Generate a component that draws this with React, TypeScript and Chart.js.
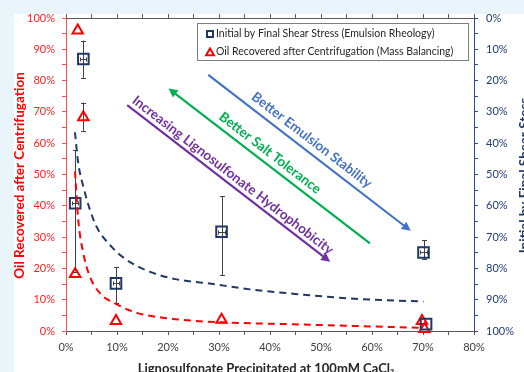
import { useEffect, useRef } from 'react';
import { Chart, registerables } from 'chart.js';

Chart.register(...registerables);

const W = 524;
const H = 372;
const FONT = 'Lato, "Open Sans", sans-serif';

// Initial by final shear stress (right axis, %, reversed)
const stressX = [3.4, 1.8, 9.8, 30.5, 70.1, 70.6];
const stressY = [13.1, 59.2, 84.8, 68.3, 74.9, 97.8];
const stressLow = [7.2, 42.3, 79.5, 56.9, 70.9, 97.8];
const stressHigh = [19.1, 81.0, 91.2, 82.1, 77.1, 97.8];
const stressXErr = [0.6, 0.6, 0.6, 0.6, 0.6, 0];

// Oil recovered after centrifugation (left axis, %)
const oilX = [2.3, 3.4, 1.8, 9.8, 30.5, 69.8, 70.3];
const oilY = [96.0, 68.3, 18.2, 3.2, 3.6, 3.2, 0.6];
const oilLow = [96.0, 64.0, 18.2, 3.2, 3.6, 3.2, 0.6];
const oilHigh = [96.0, 73.0, 18.2, 3.2, 3.6, 3.2, 0.6];

// Trend lines
const stressFitX = [1.76, 2.4, 3.4, 4.7, 6.0, 8.6, 11.9, 16.5, 21.7, 27.6, 36.1, 45.9, 55.7, 70.1];
const stressFitY = [36.5, 46.4, 53.9, 61.3, 66.7, 72.5, 77.3, 81.1, 83.5, 84.7, 86.7, 88.3, 89.6, 90.6];
const oilFitX = [1.76, 2.4, 3.4, 4.7, 6.7, 9.6, 13.9, 19.7, 27.6, 45.9, 70.0];
const oilFitY = [51.0, 35.5, 24.8, 17.3, 12.0, 8.8, 5.8, 4.1, 3.0, 2.1, 1.0];

// Trend arrows (x in %, y on the left axis in %)
const arrowText = ['Better Emulsion Stability', 'Better Salt Tolerance', 'Increasing Lignosulfonate Hydrophobicity'];
const arrowFromX = [27.9, 59.6, 12.0];
const arrowFromY = [81.8, 28.0, 72.2];
const arrowToX = [67.6, 20.1, 51.8];
const arrowToY = [32.0, 77.5, 22.1];
const arrowLabelX = [48.2, 40.0, 32.7];
const arrowLabelY = [61.0, 56.9, 49.8];
const arrowColors = ['#4472c4', '#00b050', '#7030a0'];

const legendLabels = [
  'Initial by Final Shear Stress (Emulsion Rheology)',
  'Oil Recovered after Centrifugation (Mass Balancing)',
];
const xTitle = 'Lignosulfonate Precipitated at 100mM CaCl₂';
const yTitle = 'Oil Recovered after Centrifugation';
const y1Title = 'Initial by Final Shear Stess';

const NAVY = '#1f3864';
const RED = '#ff0000';

const pct = (v: number | string) => (Number(v) % 10 === 0 ? `${v}%` : '');

const crisp = (v: number) => Math.round(v) + 0.5;

function drawTriangle(ctx: CanvasRenderingContext2D, x: number, y: number, r: number) {
  ctx.beginPath();
  ctx.moveTo(x, y - r);
  ctx.lineTo(x + r * 0.866, y + r * 0.5);
  ctx.lineTo(x - r * 0.866, y + r * 0.5);
  ctx.closePath();
  ctx.stroke();
}

const decorations = {
  id: 'decorations',
  beforeDraw(chart: any) {
    const { ctx } = chart;
    ctx.save();
    ctx.fillStyle = '#e9f5fb';
    ctx.fillRect(0, 0, W, H);
    ctx.fillStyle = '#ffffff';
    ctx.fillRect(14, 14, W - 14, H - 14);
    ctx.restore();
  },
  beforeDatasetsDraw(chart: any) {
    const { ctx, scales } = chart;
    const sx = scales.x;
    const vbar = (px: number, a: number, b: number) => {
      const x = crisp(px);
      ctx.beginPath();
      ctx.moveTo(x, a);
      ctx.lineTo(x, b);
      ctx.moveTo(x - 2.5, crisp(a));
      ctx.lineTo(x + 2.5, crisp(a));
      ctx.moveTo(x - 2.5, crisp(b));
      ctx.lineTo(x + 2.5, crisp(b));
      ctx.stroke();
    };
    ctx.save();
    ctx.strokeStyle = '#404040';
    ctx.lineWidth = 1;
    stressX.forEach((xv, i) => {
      if (stressLow[i] !== stressHigh[i]) {
        vbar(sx.getPixelForValue(xv), scales.y1.getPixelForValue(stressLow[i]), scales.y1.getPixelForValue(stressHigh[i]));
      }
      if (stressXErr[i] > 0) {
        const yy = crisp(scales.y1.getPixelForValue(stressY[i]));
        const a = crisp(sx.getPixelForValue(xv - stressXErr[i]));
        const b = crisp(sx.getPixelForValue(xv + stressXErr[i]));
        ctx.beginPath();
        ctx.moveTo(a, yy);
        ctx.lineTo(b, yy);
        ctx.moveTo(a, yy - 2);
        ctx.lineTo(a, yy + 2);
        ctx.moveTo(b, yy - 2);
        ctx.lineTo(b, yy + 2);
        ctx.stroke();
      }
    });
    oilX.forEach((xv, i) => {
      if (oilLow[i] !== oilHigh[i]) {
        vbar(sx.getPixelForValue(xv), scales.y.getPixelForValue(oilLow[i]), scales.y.getPixelForValue(oilHigh[i]));
      }
    });
    ctx.restore();
  },
  afterDatasetsDraw(chart: any) {
    const { ctx, scales, chartArea } = chart;
    const sx = scales.x;
    const sy = scales.y;
    ctx.save();
    // arrows with their captions
    arrowText.forEach((text, i) => {
      const x1 = sx.getPixelForValue(arrowFromX[i]);
      const y1 = sy.getPixelForValue(arrowFromY[i]);
      const x2 = sx.getPixelForValue(arrowToX[i]);
      const y2 = sy.getPixelForValue(arrowToY[i]);
      const ang = Math.atan2(y2 - y1, x2 - x1);
      const c = Math.cos(ang);
      const s = Math.sin(ang);
      const hl = 9;
      const hw = 4.5;
      ctx.strokeStyle = arrowColors[i];
      ctx.fillStyle = arrowColors[i];
      ctx.lineWidth = 2.2;
      ctx.beginPath();
      ctx.moveTo(x1, y1);
      ctx.lineTo(x2 - hl * 0.7 * c, y2 - hl * 0.7 * s);
      ctx.stroke();
      ctx.beginPath();
      ctx.moveTo(x2, y2);
      ctx.lineTo(x2 - hl * c + hw * s, y2 - hl * s - hw * c);
      ctx.lineTo(x2 - hl * c - hw * s, y2 - hl * s + hw * c);
      ctx.closePath();
      ctx.fill();
      const tAng = Math.atan2(Math.abs(y2 - y1), Math.abs(x2 - x1));
      ctx.save();
      ctx.translate(sx.getPixelForValue(arrowLabelX[i]), sy.getPixelForValue(arrowLabelY[i]));
      ctx.rotate(tAng);
      ctx.font = `bold 13.5px ${FONT}`;
      ctx.textAlign = 'center';
      ctx.textBaseline = 'middle';
      ctx.fillText(text, 0, 0);
      ctx.restore();
    });

    // legend box
    const lx = 197;
    const ly = 23;
    const lw = 271;
    const lh = 37;
    ctx.fillStyle = '#ffffff';
    ctx.fillRect(lx, ly, lw, lh);
    ctx.strokeStyle = '#7f7f7f';
    ctx.lineWidth = 1;
    ctx.strokeRect(lx + 0.5, ly + 0.5, lw, lh);
    ctx.font = `10.5px ${FONT}`;
    ctx.textAlign = 'left';
    ctx.textBaseline = 'middle';
    ctx.fillStyle = '#262626';
    ctx.fillText(legendLabels[0], 216, 34);
    ctx.fillText(legendLabels[1], 216, 52);
    ctx.lineWidth = 2;
    ctx.strokeStyle = NAVY;
    ctx.strokeRect(207, 31, 6, 6);
    ctx.strokeStyle = RED;
    drawTriangle(ctx, 210, 53, 4.5);

    // axis titles
    const midY = (chartArea.top + chartArea.bottom) / 2;
    ctx.font = `bold 13.5px ${FONT}`;
    ctx.textAlign = 'center';
    ctx.textBaseline = 'middle';
    ctx.fillStyle = RED;
    ctx.save();
    ctx.translate(20, midY + 1);
    ctx.rotate(-Math.PI / 2);
    ctx.fillText(yTitle, 0, 0);
    ctx.restore();
    ctx.fillStyle = NAVY;
    ctx.save();
    ctx.translate(525, midY + 1);
    ctx.rotate(-Math.PI / 2);
    ctx.fillText(y1Title, 0, 0);
    ctx.restore();
    ctx.font = `bold 13px ${FONT}`;
    ctx.fillStyle = '#262626';
    ctx.textBaseline = 'alphabetic';
    ctx.fillText(xTitle, 266, 373);
    ctx.restore();
  },
};

const fixBox = (w: number | null, h: number | null) => (scale: any) => {
  if (w !== null) scale.width = w;
  if (h !== null) scale.height = h;
  scale.paddingTop = 0;
  scale.paddingBottom = 0;
  scale.paddingLeft = 0;
  scale.paddingRight = 0;
};

export default function App() {
  const ref = useRef<HTMLCanvasElement>(null);

  useEffect(() => {
    if (!ref.current) return;
    const tickFont = { family: FONT, size: 11 };
    const chart = new Chart(ref.current, {
      type: 'scatter',
      data: {
        datasets: [
          {
            label: 'stress trend',
            data: stressFitX.map((x, i) => ({ x, y: stressFitY[i] })),
            yAxisID: 'y1',
            showLine: true,
            borderColor: NAVY,
            borderWidth: 2,
            borderDash: [7, 5],
            pointRadius: 0,
            cubicInterpolationMode: 'monotone',
          },
          {
            label: 'oil trend',
            data: oilFitX.map((x, i) => ({ x, y: oilFitY[i] })),
            yAxisID: 'y',
            showLine: true,
            borderColor: RED,
            borderWidth: 2,
            borderDash: [7, 5],
            pointRadius: 0,
            cubicInterpolationMode: 'monotone',
          },
          {
            label: legendLabels[0],
            data: stressX.map((x, i) => ({ x, y: stressY[i] })),
            yAxisID: 'y1',
            pointStyle: 'rect',
            pointRadius: 7.5,
            borderWidth: 2,
            borderColor: NAVY,
            backgroundColor: 'rgba(0,0,0,0)',
            clip: false,
          },
          {
            label: legendLabels[1],
            data: oilX.map((x, i) => ({ x, y: oilY[i] })),
            yAxisID: 'y',
            pointStyle: 'triangle',
            pointRadius: 6,
            borderWidth: 2,
            borderColor: RED,
            backgroundColor: 'rgba(0,0,0,0)',
            clip: false,
          },
        ],
      },
      options: {
        responsive: false,
        animation: false,
        events: [],
        devicePixelRatio: 1,
        layout: { padding: 0 },
        plugins: { legend: { display: false }, tooltip: { enabled: false } },
        scales: {
          x: {
            type: 'linear',
            position: 'bottom',
            min: 0,
            max: 80,
            afterFit: fixBox(null, 41),
            ticks: { stepSize: 5, autoSkip: false, maxRotation: 0, callback: pct, color: '#404040', font: tickFont, padding: 6 },
            grid: { drawOnChartArea: false, tickLength: 4, color: '#595959' },
            border: { color: '#595959' },
          },
          xTop: {
            type: 'linear',
            axis: 'x',
            position: 'top',
            min: 0,
            max: 80,
            afterFit: fixBox(null, 18),
            ticks: { stepSize: 5, display: false },
            grid: { drawOnChartArea: false, tickLength: 4, color: '#595959' },
            border: { color: '#595959' },
          },
          y: {
            type: 'linear',
            position: 'left',
            min: 0,
            max: 100,
            afterFit: fixBox(66, null),
            ticks: { stepSize: 5, autoSkip: false, callback: pct, color: '#ff2020', font: tickFont, padding: 7 },
            grid: { drawOnChartArea: false, tickLength: 4, color: '#ff5050' },
            border: { color: '#ff5050' },
          },
          y1: {
            type: 'linear',
            position: 'right',
            reverse: true,
            min: 0,
            max: 100,
            afterFit: fixBox(50, null),
            ticks: { stepSize: 5, autoSkip: false, callback: pct, color: '#1f3b78', font: tickFont, padding: 8 },
            grid: { drawOnChartArea: false, tickLength: 4, color: '#2f4b8f' },
            border: { color: '#2f4b8f' },
          },
        },
      },
      plugins: [decorations],
    } as any);
    return () => chart.destroy();
  }, []);

  return (
    <div style={{ position: 'fixed', left: 0, top: 0, width: W, height: H }}>
      <canvas ref={ref} width={W} height={H} style={{ display: 'block', width: W, height: H }} />
    </div>
  );
}
